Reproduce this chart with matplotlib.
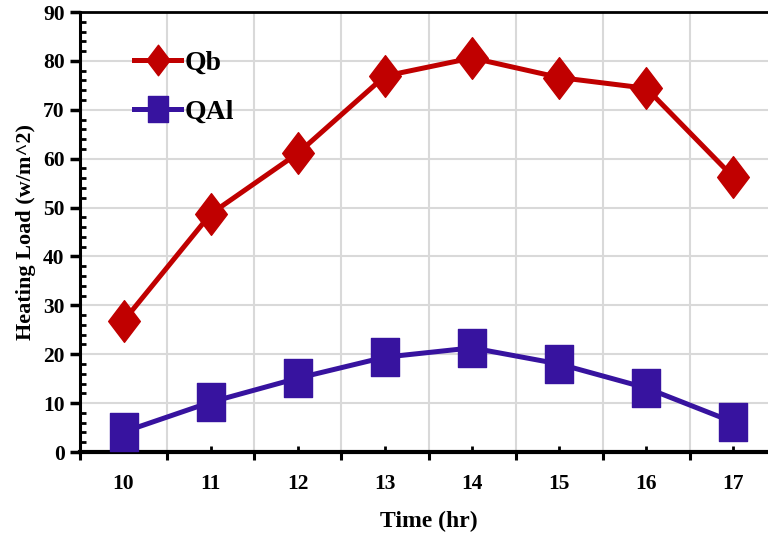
import matplotlib
matplotlib.use("Agg")
import matplotlib.pyplot as plt
from matplotlib.path import Path
from matplotlib.lines import Line2D
from matplotlib.ticker import MultipleLocator, AutoMinorLocator

# Data
hours = ["10", "11", "12", "13", "14", "15", "16", "17"]
qb = [26.8, 48.7, 61.1, 76.9, 80.6, 76.6, 74.4, 56.2]
qal = [4.1, 10.2, 15.1, 19.4, 21.3, 18.0, 13.1, 6.1]

red = "#C00000"
purple = "#37139F"

plt.rcParams["font.family"] = ["Liberation Serif", "DejaVu Serif"]
plt.rcParams["font.weight"] = "bold"

# Narrow diamond and narrow square markers
diamond = Path([(0, 1), (0.76, 0), (0, -1), (-0.76, 0), (0, 1)],
               [Path.MOVETO, Path.LINETO, Path.LINETO, Path.LINETO, Path.CLOSEPOLY])
square = Path([(-0.77, -1), (0.77, -1), (0.77, 1), (-0.77, 1), (-0.77, -1)],
              [Path.MOVETO, Path.LINETO, Path.LINETO, Path.LINETO, Path.CLOSEPOLY])

fig = plt.figure(figsize=(7.68, 5.35), dpi=100)
ax = fig.add_axes([80 / 768, 1 - 452 / 535, (777 - 80) / 768, (452 - 12) / 535])

x = list(range(len(hours)))
ax.plot(x, qb, color=red, lw=3.6, marker=diamond, ms=30, mec=red, mfc=red,
        zorder=3, clip_on=False)
ax.plot(x, qal, color=purple, lw=3.6, marker=square, ms=27, mec=purple, mfc=purple,
        zorder=3, clip_on=False)

ax.set_xlim(-0.5, len(hours) - 0.5)
ax.set_ylim(0, 90)

# Category axis: boundary ticks (major) with grid, centred labels on minor ticks
ax.set_xticks([i - 0.5 for i in range(len(hours) + 1)])
ax.set_xticklabels([])
ax.set_xticks(x, minor=True)
ax.set_xticklabels(hours, minor=True)
ax.tick_params(axis="x", which="major", direction="out", length=6, width=2.2)
ax.tick_params(axis="x", which="minor", direction="in", length=4, width=2,
               labelsize=15.5, pad=16)

ax.yaxis.set_major_locator(MultipleLocator(10))
ax.yaxis.set_minor_locator(AutoMinorLocator(5))
ax.tick_params(axis="y", which="major", direction="out", length=7, width=2.5,
               labelsize=15.5, pad=4)
ax.tick_params(axis="y", which="minor", direction="in", length=4, width=2)

for lab in ax.get_xticklabels(minor=True) + ax.get_yticklabels():
    lab.set_fontweight("bold")

ax.grid(True, which="major", color="#d9d9d9", lw=1.5, zorder=0)
ax.set_axisbelow(True)

ax.spines["left"].set_linewidth(2.2)
ax.spines["bottom"].set_linewidth(3.0)
ax.spines["top"].set_linewidth(2.0)
ax.spines["right"].set_visible(False)

ax.set_xlabel("Time (hr)", fontsize=17, fontweight="bold", labelpad=12)
ax.set_ylabel("Heating Load (w/m^2)", fontsize=16, fontweight="bold", labelpad=5)

handles = [
    Line2D([], [], color=red, lw=3.6, marker=diamond, ms=22, mec=red, mfc=red),
    Line2D([], [], color=purple, lw=3.6, marker=square, ms=19, mec=purple, mfc=purple),
]
leg = ax.legend(handles, ["Qb", "QAl"], loc="upper left",
                bbox_to_anchor=(0.042, 0.97), frameon=False,
                prop={"family": "Liberation Serif", "weight": "bold", "size": 20},
                handlelength=1.7, handletextpad=0.1, labelspacing=0.85)

fig.savefig("out.png", dpi=100)
